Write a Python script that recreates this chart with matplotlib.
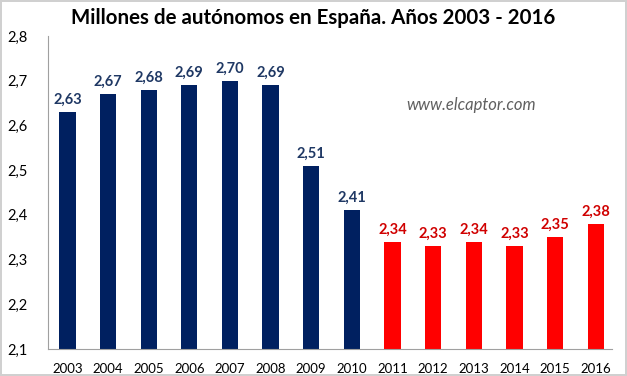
import matplotlib.pyplot as plt

years = ["2003", "2004", "2005", "2006", "2007", "2008", "2009",
         "2010", "2011", "2012", "2013", "2014", "2015", "2016"]
values = [2.63, 2.67, 2.68, 2.69, 2.70, 2.69, 2.51,
          2.41, 2.34, 2.33, 2.34, 2.33, 2.35, 2.38]
yticks = [2.1, 2.2, 2.3, 2.4, 2.5, 2.6, 2.7, 2.8]

plt.rcParams['font.family'] = ['Lato', 'DejaVu Sans']

fig = plt.figure(figsize=(6.27, 3.76), dpi=100)
fig.patch.set_edgecolor('#d0d0d0')
fig.patch.set_linewidth(1.5)
ax = fig.add_axes([0.077, 0.072, 0.899, 0.832])

x = list(range(len(years)))
bar_colors = ['#002060' if int(y) <= 2010 else '#ff0000' for y in years]
text_colors = ['#1f3864' if int(y) <= 2010 else '#d00000' for y in years]
ax.bar(x, [v - 2.1 for v in values], bottom=2.1, width=0.4, color=bar_colors)

# etiquetas de datos
for xi, v, c in zip(x, values, text_colors):
    ax.text(xi, v + 0.012, f"{v:.2f}".replace('.', ','), ha='center', va='bottom',
            fontsize=10.5, fontweight='bold', color=c)

ax.set_xlim(-0.47, 13.4)
ax.set_ylim(2.1, 2.8)
ax.set_xticks(x)
ax.set_xticklabels(years, fontsize=9.5)
ax.set_yticks(yticks)
ax.set_yticklabels([f"{t:.1f}".replace('.', ',') for t in yticks], fontsize=10.5)
ax.tick_params(axis='both', length=0, pad=10)
ax.tick_params(axis='y', pad=15)

for s in ['top', 'right']:
    ax.spines[s].set_visible(False)
for s in ['left', 'bottom']:
    ax.spines[s].set_color('#a0a0a0')

ax.text(0.75, 0.78, "www.elcaptor.com", transform=ax.transAxes, ha='center',
        va='center', fontsize=12, style='italic', color='#606060')

fig.suptitle("Millones de autónomos en España. Años 2003 - 2016",
             fontsize=14.8, fontweight='bold', y=0.98)

fig.savefig('out.png', dpi=100)
